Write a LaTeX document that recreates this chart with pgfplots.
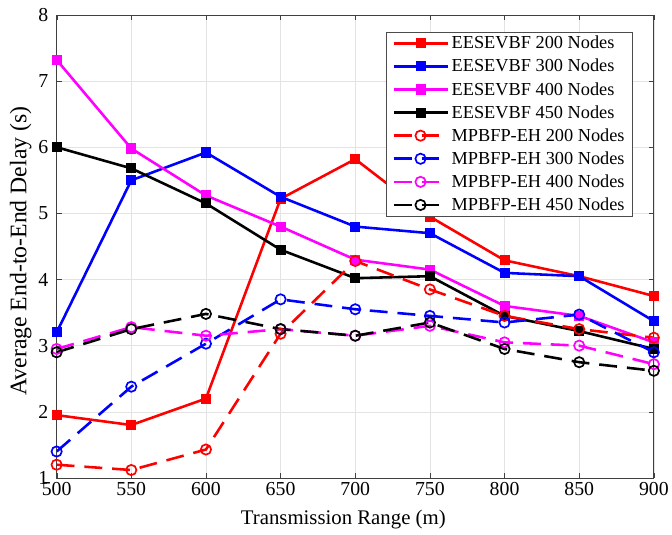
\documentclass[border=0pt]{standalone}
\usepackage{fontspec}
\setmainfont{Liberation Serif}
\usepackage{pgfplots}
\pgfplotsset{compat=1.18}
\definecolor{cred}{RGB}{255,0,0}
\definecolor{cblue}{RGB}{0,0,255}
\definecolor{cmag}{RGB}{255,0,255}

\begin{document}
\begin{tikzpicture}
\begin{axis}[
  scale only axis,
  width=601bp, height=466bp,
  xmin=500, xmax=900, ymin=1, ymax=8,
  xtick={500,550,...,900}, ytick={1,...,8},
  /pgf/number format/assume math mode=true,
  /pgf/number format/1000 sep={},
  ticklabel style={font=\fontsize{20}{22}\selectfont},
  xticklabel style={yshift=-1bp},
  yticklabel style={xshift=-5bp},
  xlabel={Transmission Range (m)},
  ylabel={Average End-to-End Delay (s)},
  xlabel style={font=\fontsize{21}{24}\selectfont, at={(axis description cs:0.48,-0.09)}, anchor=center},
  ylabel style={font=\fontsize{24}{26}\selectfont, at={(axis description cs:-0.06,0.49)}, anchor=center, rotate=0},
  grid=major,
  major grid style={gray!22, line width=0.6pt},
  axis line style={black!75, line width=0.8pt},
  tick style={black!75},
  tick align=inside,
  major tick length=5bp,
  legend style={at={(0.965,0.9635)}, anchor=north east, font=\fontsize{18.5}{21}\selectfont,
    draw=black!70, line width=0.8pt, inner xsep=6pt, inner ysep=2pt, row sep=5pt, cells={anchor=west}},
  legend cell align=left,
  every axis plot/.append style={line width=2.6pt,
    legend image code/.code={\draw[mark repeat=2, mark phase=2] plot coordinates {(0bp,0bp) (27bp,0bp) (55bp,0bp)};}},
  solid mark/.style={mark=square*, mark size=3.8pt, mark options={solid}},
  circ mark/.style={mark=o, mark size=5.2pt, mark options={solid, line width=1.7pt}},
  dsh/.style={dash pattern=on 18bp off 10bp},
]
% EESEVBF
\addplot[cred, solid mark] coordinates {(500,1.95) (550,1.8) (600,2.2) (650,5.22) (700,5.82) (750,4.95) (800,4.29) (850,4.05) (900,3.75)};
\addlegendentry{EESEVBF 200 Nodes}
\addplot[cblue, solid mark] coordinates {(500,3.2) (550,5.5) (600,5.92) (650,5.25) (700,4.8) (750,4.7) (800,4.1) (850,4.05) (900,3.37)};
\addlegendentry{EESEVBF 300 Nodes}
\addplot[cmag, solid mark] coordinates {(500,7.32) (550,5.98) (600,5.27) (650,4.8) (700,4.3) (750,4.15) (800,3.6) (850,3.45) (900,3.05)};
\addlegendentry{EESEVBF 400 Nodes}
\addplot[black, solid mark] coordinates {(500,6.0) (550,5.68) (600,5.15) (650,4.45) (700,4.02) (750,4.05) (800,3.45) (850,3.22) (900,2.95)};
\addlegendentry{EESEVBF 450 Nodes}
% MPBFP-EH
\addplot[cred, dsh, circ mark] coordinates {(500,1.2) (550,1.12) (600,1.43) (650,3.18) (700,4.28) (750,3.85) (800,3.45) (850,3.25) (900,3.12)};
\addlegendentry{MPBFP-EH 200 Nodes}
\addplot[cblue, dsh, circ mark] coordinates {(500,1.4) (550,2.38) (600,3.03) (650,3.7) (700,3.55) (750,3.45) (800,3.35) (850,3.47) (900,2.9)};
\addlegendentry{MPBFP-EH 300 Nodes}
\addplot[cmag, dsh, circ mark] coordinates {(500,2.95) (550,3.28) (600,3.15) (650,3.25) (700,3.15) (750,3.3) (800,3.05) (850,3.0) (900,2.72)};
\addlegendentry{MPBFP-EH 400 Nodes}
\addplot[black, dsh, circ mark] coordinates {(500,2.9) (550,3.25) (600,3.48) (650,3.25) (700,3.15) (750,3.35) (800,2.95) (850,2.75) (900,2.62)};
\addlegendentry{MPBFP-EH 450 Nodes}
\end{axis}
\path ([xshift=-57bp,yshift=-57bp]current axis.south west) rectangle ([xshift=14bp,yshift=15bp]current axis.north east);
\end{tikzpicture}
\end{document}
